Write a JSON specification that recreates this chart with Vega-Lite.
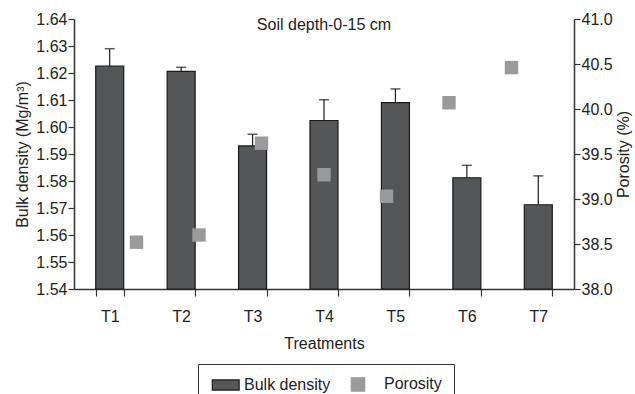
{
  "$schema": "https://vega.github.io/schema/vega-lite/v6.json",
  "width": 500,
  "height": 270,
  "autosize": "none",
  "padding": {"left": 74, "top": 19, "right": 61, "bottom": 105},
  "title": {"text": "Soil depth-0-15 cm", "orient": "top", "anchor": "middle", "frame": "group", "offset": -22, "font": "Liberation Sans", "fontSize": 16, "fontWeight": "normal", "color": "#222222"},
  "config": {
    "view": {"stroke": null},
    "font": "Liberation Sans",
    "axis": {"grid": false, "domainColor": "#333333", "tickColor": "#333333", "labelColor": "#222222", "titleColor": "#222222", "labelFont": "Liberation Sans", "titleFont": "Liberation Sans", "labelFontSize": 16, "titleFontSize": 16, "titleFontWeight": "normal", "domainWidth": 1.5, "tickWidth": 1.2, "labelOverlap": false}
  },
  "data": {
    "values": [
      {"t": "T1", "idx": 1, "bd": 1.6226, "err": 1.629, "por": 38.52},
      {"t": "T2", "idx": 2, "bd": 1.6206, "err": 1.6221, "por": 38.60},
      {"t": "T3", "idx": 3, "bd": 1.5930, "err": 1.5973, "por": 39.62},
      {"t": "T4", "idx": 4, "bd": 1.6024, "err": 1.6101, "por": 39.27},
      {"t": "T5", "idx": 5, "bd": 1.6090, "err": 1.6141, "por": 39.03},
      {"t": "T6", "idx": 6, "bd": 1.5812, "err": 1.5858, "por": 40.07},
      {"t": "T7", "idx": 7, "bd": 1.5712, "err": 1.5819, "por": 40.46}
    ]
  },
  "layer": [
    {
      "encoding": {
        "x": {"field": "t", "type": "nominal", "sort": null, "scale": {"paddingInner": 0.608, "paddingOuter": 0.304},
          "axis": {"title": "Treatments", "labelAngle": 0, "tickBand": "extent", "tickSize": 7, "labelPadding": 12, "titlePadding": 11}}
      },
      "layer": [
        {
          "mark": {"type": "bar", "strokeWidth": 1.2},
          "encoding": {
            "y": {"field": "bd", "type": "quantitative", "scale": {"domain": [1.54, 1.64], "zero": false, "nice": false},
              "axis": {"title": "Bulk density (Mg/m³)", "orient": "left", "values": [1.54, 1.55, 1.56, 1.57, 1.58, 1.59, 1.6, 1.61, 1.62, 1.63, 1.64], "format": ".2f", "tickSize": 6, "labelPadding": 1, "titlePadding": 5}},
            "y2": {"datum": 1.54},
            "color": {"datum": "Bulk density", "type": "nominal",
              "scale": {"domain": ["Bulk density", "Porosity"], "range": ["#555657", "#9a9a9c"]},
              "legend": {"title": null, "orient": "none", "legendX": 124, "legendY": 345, "direction": "horizontal", "strokeColor": "#333333", "padding": 12, "labelFontSize": 16, "labelFont": "Liberation Sans", "labelColor": "#222222", "symbolSize": 180, "symbolStrokeWidth": 1.2, "columnPadding": 17, "labelOffset": 18}},
            "stroke": {"datum": "Bulk density", "type": "nominal",
              "scale": {"domain": ["Bulk density", "Porosity"], "range": ["#1a1a1a", "#9a9a9c"]}}
          }
        },
        {
          "mark": {"type": "rule", "color": "#1a1a1a", "strokeWidth": 1.2},
          "encoding": {
            "y": {"field": "bd", "type": "quantitative",
              "axis": {"title": "Bulk density (Mg/m³)", "orient": "left", "values": [1.54, 1.55, 1.56, 1.57, 1.58, 1.59, 1.6, 1.61, 1.62, 1.63, 1.64], "format": ".2f", "tickSize": 6, "labelPadding": 1, "titlePadding": 5}},
            "y2": {"field": "err"}}
        },
        {
          "mark": {"type": "tick", "color": "#1a1a1a", "thickness": 1.5, "size": 10},
          "encoding": {
            "y": {"field": "err", "type": "quantitative",
              "axis": {"title": "Bulk density (Mg/m³)", "orient": "left", "values": [1.54, 1.55, 1.56, 1.57, 1.58, 1.59, 1.6, 1.61, 1.62, 1.63, 1.64], "format": ".2f", "tickSize": 6, "labelPadding": 1, "titlePadding": 5}}}
        }
      ]
    },
    {
      "mark": {"type": "point", "shape": "square", "filled": true, "size": 180, "opacity": 1, "strokeWidth": 0},
      "encoding": {
        "x": {"field": "idx", "type": "quantitative", "scale": {"domain": [0, 8], "nice": false}, "axis": null},
        "y": {"field": "por", "type": "quantitative", "scale": {"domain": [38, 41], "zero": false, "nice": false},
          "axis": {"title": "Porosity (%)", "orient": "right", "titleAngle": 270, "values": [38, 38.5, 39, 39.5, 40, 40.5, 41], "format": ".1f", "tickSize": 6, "labelPadding": 1, "titlePadding": 19}},
        "color": {"datum": "Porosity", "type": "nominal"},
        "stroke": {"datum": "Porosity", "type": "nominal"},
        "shape": {"datum": "Porosity", "type": "nominal", "scale": {"domain": ["Bulk density", "Porosity"], "range": ["M-0.85,-0.75H3.15V0.75H-0.85Z", "square"]}}
      }
    }
  ],
  "resolve": {"scale": {"x": "independent", "y": "independent"}}
}
